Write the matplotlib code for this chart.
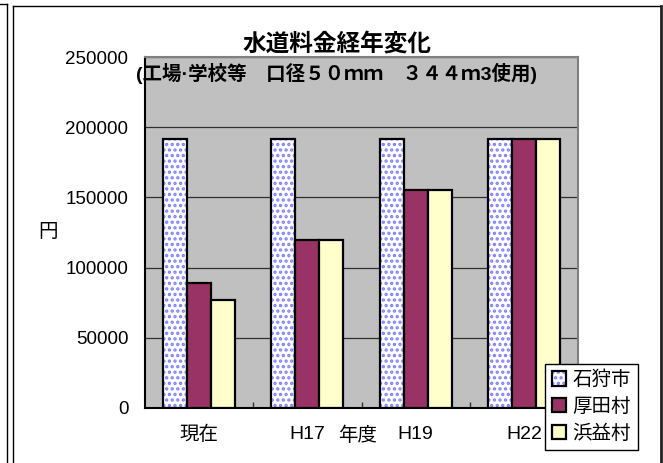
import matplotlib

matplotlib.use("Agg")
import matplotlib.pyplot as plt
import numpy as np
from matplotlib.lines import Line2D
from matplotlib.patches import Patch

plt.rcParams["font.family"] = ["Liberation Sans", "Noto Sans CJK JP"]
plt.rcParams["hatch.linewidth"] = 1.6

categories = ["現在", "H17", "H19", "H22"]
series_names = ["石狩市", "厚田村", "浜益村"]
ishikari = [191500, 191500, 191500, 191500]
atsuta = [89000, 120000, 155000, 191500]
hamamasu = [77000, 120000, 155000, 191500]
yticks = [0, 50000, 100000, 150000, 200000, 250000]

W, H = 663, 463
fig = plt.figure(figsize=(W / 100, H / 100), dpi=100)
fig.patch.set_facecolor("white")


def fx(px):
    return px / W


def fy(py):
    return 1 - py / H


# outer frame lines
for xs, ys, lw, c in [
    ([0, 7], [4, 4], 1.0, "black"),
    ([7, 7], [4, 470], 1.0, "black"),
    ([13, 13], [6, 470], 1.0, "black"),
    ([13, 661], [6, 6], 1.0, "black"),
    ([661, 661], [6, 470], 2.0, "#222222"),
]:
    fig.add_artist(Line2D([fx(x) for x in xs], [fy(y) for y in ys],
                          transform=fig.transFigure, color=c, lw=lw))

ax = fig.add_axes([fx(145), fy(408), fx(578) - fx(145), fy(57) - fy(408)])
ax.set_facecolor("#C0C0C0")

x = np.arange(len(categories))
w = 1 / 4.5
edge_lw = 1.6
dot_col = "#8080FF"

# 石狩市: white with blue dots
ax.bar(x - w, ishikari, w, facecolor="white", edgecolor=dot_col, hatch="...", lw=0, zorder=2)
ax.bar(x - w, ishikari, w, fill=False, edgecolor="black", lw=edge_lw, zorder=3)
ax.bar(x, atsuta, w, color="#993366", edgecolor="black", lw=edge_lw, zorder=3)
ax.bar(x + w, hamamasu, w, color="#FFFFCC", edgecolor="black", lw=edge_lw, zorder=3)

ax.set_xlim(-0.5, len(categories) - 0.5)
ax.set_ylim(0, 250000)
ax.set_yticks(yticks)
ax.set_yticklabels([str(v) for v in yticks], fontsize=13.5)
ax.tick_params(axis="y", length=0, pad=12)
ax.yaxis.grid(True, color="#303030", lw=0.9)
ax.set_axisbelow(True)

ax.set_xticks(x[:-1] + 0.5)
ax.set_xticklabels([])
ax.tick_params(axis="x", which="major", direction="in", length=4, width=1, color="#303030")
ax.set_xticks(x, minor=True)
ax.set_xticklabels(categories, minor=True, fontsize=14)
ax.tick_params(axis="x", which="minor", length=0, pad=13)

for s in ["top", "right"]:
    ax.spines[s].set_color("#808080")
    ax.spines[s].set_linewidth(1.5)
for s in ["left", "bottom"]:
    ax.spines[s].set_color("black")
    ax.spines[s].set_linewidth(1.5)

fig.text(fx(337), fy(45), "水道料金経年変化", fontsize=17, fontweight="bold",
         ha="center", va="center")
fig.text(fx(337), fy(73), "(工場·学校等　口径５０ｍｍ　３４４ｍ3使用)", fontsize=14,
         fontweight="bold", ha="center", va="center")
fig.text(fx(48), fy(233), "円", fontsize=14, ha="center", va="center")
fig.text(fx(358), fy(436), "年度", fontsize=14, ha="center", va="center")

handles = [
    (Patch(facecolor="white", edgecolor=dot_col, hatch="...", lw=0),
     Patch(fill=False, edgecolor="black", lw=1.6)),
    Patch(facecolor="#993366", edgecolor="black", lw=1.6),
    Patch(facecolor="#FFFFCC", edgecolor="black", lw=1.6),
]
leg = fig.legend(handles, series_names, loc="upper left",
                 bbox_to_anchor=(fx(545), fy(364)), fontsize=14,
                 frameon=True, fancybox=False, edgecolor="black", framealpha=1,
                 handlelength=0.75, handleheight=0.75, handletextpad=0.3,
                 labelspacing=0.45, borderpad=0.35, borderaxespad=0)
leg.get_frame().set_linewidth(1.0)

fig.savefig("out.png", dpi=100, facecolor="white")
